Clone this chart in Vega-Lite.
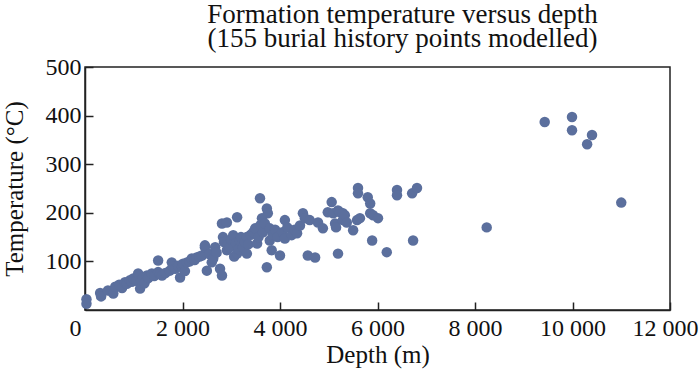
{
  "$schema": "https://vega.github.io/schema/vega-lite/v6.json",
  "autosize": "none",
  "width": 585,
  "height": 243,
  "padding": {"left": 85, "top": 67, "right": 30, "bottom": 65},
  "background": "white",
  "title": {
    "text": ["Formation temperature versus depth", "(155 burial history points modelled)"],
    "font": "Liberation Serif",
    "fontSize": 27,
    "fontWeight": "normal",
    "color": "#111111",
    "lineHeight": 24,
    "anchor": "middle",
    "frame": "group",
    "baseline": "bottom",
    "offset": 12,
    "dx": 25,
    "dy": 37
  },
  "config": {
    "view": {"stroke": "#222222", "strokeWidth": 1.5},
    "axis": {
      "labelFont": "Liberation Serif",
      "titleFont": "Liberation Serif",
      "labelFontSize": 24,
      "titleFontSize": 25,
      "titleFontWeight": "normal",
      "labelColor": "#111111",
      "titleColor": "#111111",
      "domainColor": "#222222",
      "domainWidth": 1.5,
      "tickColor": "#222222",
      "tickWidth": 1.5,
      "tickSize": -8,
      "grid": false,
      "labelOverlap": false
    }
  },
  "data": {
    "values": [
      {"depth": 30, "temp": 22}, {"depth": 30, "temp": 13}, {"depth": 310, "temp": 35}, {"depth": 330, "temp": 28},
      {"depth": 470, "temp": 40}, {"depth": 580, "temp": 34}, {"depth": 620, "temp": 48}, {"depth": 700, "temp": 52},
      {"depth": 760, "temp": 45}, {"depth": 820, "temp": 57}, {"depth": 860, "temp": 54}, {"depth": 920, "temp": 61},
      {"depth": 960, "temp": 58}, {"depth": 990, "temp": 65}, {"depth": 1050, "temp": 60}, {"depth": 1090, "temp": 75},
      {"depth": 1130, "temp": 44}, {"depth": 1150, "temp": 62}, {"depth": 1190, "temp": 67}, {"depth": 1220, "temp": 55},
      {"depth": 1270, "temp": 71}, {"depth": 1300, "temp": 66}, {"depth": 1370, "temp": 75}, {"depth": 1420, "temp": 70},
      {"depth": 1500, "temp": 78}, {"depth": 1500, "temp": 102}, {"depth": 1540, "temp": 74}, {"depth": 1580, "temp": 71},
      {"depth": 1650, "temp": 76}, {"depth": 1740, "temp": 81}, {"depth": 1780, "temp": 98}, {"depth": 1800, "temp": 90},
      {"depth": 1850, "temp": 85}, {"depth": 1910, "temp": 91}, {"depth": 1950, "temp": 67}, {"depth": 1990, "temp": 88},
      {"depth": 2010, "temp": 95}, {"depth": 2050, "temp": 80}, {"depth": 2090, "temp": 98}, {"depth": 2150, "temp": 100},
      {"depth": 2190, "temp": 106}, {"depth": 2250, "temp": 103}, {"depth": 2290, "temp": 108}, {"depth": 2350, "temp": 110},
      {"depth": 2400, "temp": 112}, {"depth": 2460, "temp": 129}, {"depth": 2460, "temp": 133}, {"depth": 2500, "temp": 81},
      {"depth": 2550, "temp": 115}, {"depth": 2600, "temp": 98}, {"depth": 2630, "temp": 106}, {"depth": 2670, "temp": 129},
      {"depth": 2700, "temp": 118},
      {"depth": 2770, "temp": 85}, {"depth": 2810, "temp": 71}, {"depth": 2810, "temp": 178}, {"depth": 2830, "temp": 150},
      {"depth": 2850, "temp": 140}, {"depth": 2910, "temp": 180}, {"depth": 2910, "temp": 123}, {"depth": 2930, "temp": 135},
      {"depth": 2970, "temp": 129}, {"depth": 3000, "temp": 145}, {"depth": 3040, "temp": 154}, {"depth": 3060, "temp": 110},
      {"depth": 3100, "temp": 138}, {"depth": 3120, "temp": 116}, {"depth": 3120, "temp": 191}, {"depth": 3150, "temp": 125},
      {"depth": 3180, "temp": 143}, {"depth": 3200, "temp": 150}, {"depth": 3240, "temp": 129}, {"depth": 3280, "temp": 140},
      {"depth": 3320, "temp": 150}, {"depth": 3320, "temp": 116}, {"depth": 3350, "temp": 135}, {"depth": 3400, "temp": 155},
      {"depth": 3450, "temp": 160}, {"depth": 3490, "temp": 168}, {"depth": 3530, "temp": 137}, {"depth": 3560, "temp": 150},
      {"depth": 3590, "temp": 230}, {"depth": 3600, "temp": 175}, {"depth": 3630, "temp": 189}, {"depth": 3650, "temp": 160},
      {"depth": 3690, "temp": 178}, {"depth": 3730, "temp": 209}, {"depth": 3730, "temp": 88}, {"depth": 3750, "temp": 199},
      {"depth": 3790, "temp": 168}, {"depth": 3790, "temp": 143}, {"depth": 3830, "temp": 123}, {"depth": 3850, "temp": 155},
      {"depth": 3900, "temp": 165}, {"depth": 3950, "temp": 150}, {"depth": 4000, "temp": 112}, {"depth": 4050, "temp": 160},
      {"depth": 4100, "temp": 185}, {"depth": 4100, "temp": 147}, {"depth": 4150, "temp": 170}, {"depth": 4240, "temp": 154},
      {"depth": 4300, "temp": 165}, {"depth": 4350, "temp": 158}, {"depth": 4410, "temp": 174}, {"depth": 4470, "temp": 199},
      {"depth": 4510, "temp": 189}, {"depth": 4570, "temp": 112}, {"depth": 4610, "temp": 185}, {"depth": 4720, "temp": 108},
      {"depth": 4780, "temp": 180}, {"depth": 4880, "temp": 168}, {"depth": 4980, "temp": 201}, {"depth": 5060, "temp": 222},
      {"depth": 5090, "temp": 199}, {"depth": 5130, "temp": 178}, {"depth": 5150, "temp": 170}, {"depth": 5190, "temp": 116},
      {"depth": 5190, "temp": 205}, {"depth": 5230, "temp": 201}, {"depth": 5290, "temp": 199}, {"depth": 5290, "temp": 185},
      {"depth": 5330, "temp": 195}, {"depth": 5370, "temp": 180}, {"depth": 5500, "temp": 164}, {"depth": 5580, "temp": 185},
      {"depth": 5640, "temp": 189}, {"depth": 5600, "temp": 251}, {"depth": 5600, "temp": 240}, {"depth": 5800, "temp": 232},
      {"depth": 5850, "temp": 219}, {"depth": 5850, "temp": 199}, {"depth": 5910, "temp": 195}, {"depth": 6010, "temp": 189},
      {"depth": 5890, "temp": 143}, {"depth": 6190, "temp": 119}, {"depth": 6400, "temp": 247}, {"depth": 6400, "temp": 236},
      {"depth": 6710, "temp": 240}, {"depth": 6810, "temp": 251}, {"depth": 6730, "temp": 143},
      {"depth": 8240, "temp": 170}, {"depth": 9430, "temp": 387}, {"depth": 9990, "temp": 397}, {"depth": 9990, "temp": 370},
      {"depth": 10400, "temp": 360}, {"depth": 10300, "temp": 341}, {"depth": 11000, "temp": 221}
    ]
  },
  "mark": {"type": "circle", "size": 110, "color": "#5b6f9d", "opacity": 1},
  "encoding": {
    "x": {
      "field": "depth",
      "type": "quantitative",
      "scale": {"domain": [0, 12000], "nice": false, "zero": false},
      "axis": {
        "title": "Depth (m)",
        "values": [0, 2000, 4000, 6000, 8000, 10000, 12000],
        "labelExpr": "replace(format(datum.value, ','), ',', ' ')",
        "labelOffset": {"condition": [{"test": "datum.value === 0", "value": -10}, {"test": "datum.value === 12000", "value": -5}], "value": 0},
        "labelPadding": 14,
        "titlePadding": 2,
        "labelFlush": false
      }
    },
    "y": {
      "field": "temp",
      "type": "quantitative",
      "scale": {"domain": [0, 500], "nice": false},
      "axis": {
        "title": "Temperature (°C)",
        "values": [100, 200, 300, 400, 500],
        "labelPadding": 12,
        "titlePadding": 18,
        "labelFlush": false
      }
    }
  }
}
